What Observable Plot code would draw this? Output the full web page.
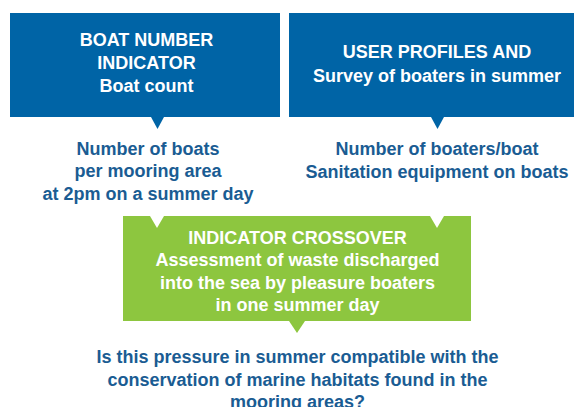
<!DOCTYPE html>
<html>
<head>
<meta charset="utf-8">
<script src="https://cdn.jsdelivr.net/npm/d3@7"></script>
<script src="https://cdn.jsdelivr.net/npm/@observablehq/plot@0.6"></script>
<style>
  html, body { margin: 0; padding: 0; background: #ffffff; }
  #chart svg { display: block; }
</style>
</head>
<body>
<div id="chart"></div>
<script>
// Diagram content
const boxNames   = ["Boat number indicator", "User profiles", "Indicator crossover"];
const boxX1      = [10, 289, 123];
const boxX2      = [280, 575, 471];
const boxY1      = [13, 13, 216];
const boxY2      = [117, 117, 321];
const boxKind    = ["blue", "blue", "green"];

// pointers (downward triangles): centre x, top y, tip y, kind
const ptrX    = [157.5, 437.5, 297, 157, 437];
const ptrTop  = [117, 117, 321, 216, 216];
const ptrTip  = [129, 129, 333, 228, 228];
const ptrHalf = [6.5, 6.5, 8, 7, 7];
const ptrKind = ["blue", "blue", "green", "white", "white"];

// text lines
const lineText = [
  "BOAT NUMBER", "INDICATOR", "Boat count",
  "Number of boats", "per mooring area", "at 2pm on a summer day",
  "USER PROFILES AND", "Survey of boaters in summer",
  "Number of boaters/boat", "Sanitation equipment on boats",
  "INDICATOR CROSSOVER", "Assessment of waste discharged", "into the sea by pleasure boaters", "in one summer day",
  "Is this pressure in summer compatible with the", "conservation of marine habitats found in the", "mooring areas?"
];
const lineX = [
  146, 146, 146,
  147.5, 147.5, 147.5,
  436.5, 436.5,
  436.5, 436.5,
  297, 297, 297, 297,
  297, 297, 297
];
const lineY = [
  40, 63, 86,
  149, 171, 194,
  52, 76,
  149, 172,
  238, 260, 283, 305,
  357, 380, 402
];
const lineKind = [
  "onBox", "onBox", "onBox",
  "plain", "plain", "plain",
  "onBox", "onBox",
  "plain", "plain",
  "onBox", "onBox", "onBox", "onBox",
  "plain", "plain", "plain"
];

const colors = {blue: "#0064a6", green: "#8dc63f", white: "#ffffff", onBox: "#ffffff", plain: "#1a5c93"};

const boxes = boxNames.map((name, i) => ({name, x1: boxX1[i], x2: boxX2[i], y1: boxY1[i], y2: boxY2[i], kind: boxKind[i]}));
const ptrs = [];
ptrX.forEach((x, i) => {
  ptrs.push({id: i, x: x - ptrHalf[i], y1: ptrTop[i], y2: ptrTop[i], kind: ptrKind[i]});
  ptrs.push({id: i, x: x, y1: ptrTop[i], y2: ptrTip[i], kind: ptrKind[i]});
  ptrs.push({id: i, x: x + ptrHalf[i], y1: ptrTop[i], y2: ptrTop[i], kind: ptrKind[i]});
});
const lines = lineText.map((text, i) => ({text, x: lineX[i], y: lineY[i], kind: lineKind[i]}));

const plot = Plot.plot({
  width: 574,
  height: 407,
  margin: 0,
  x: {domain: [0, 574], range: [0, 574], axis: null},
  y: {domain: [0, 407], range: [0, 407], axis: null},
  style: {background: "#ffffff", fontFamily: "'Liberation Sans', Arial, sans-serif"},
  marks: [
    Plot.rect(boxes, {x1: "x1", x2: "x2", y1: "y1", y2: "y2", fill: d => colors[d.kind]}),
    Plot.areaY(ptrs, {x: "x", y1: "y1", y2: "y2", z: "id", fill: d => colors[d.kind], curve: "linear"}),
    Plot.text(lines, {
      x: "x", y: "y", text: "text",
      fill: d => colors[d.kind],
      fontSize: 18, fontWeight: "bold",
      textAnchor: "middle", lineAnchor: "middle"
    })
  ]
});
document.getElementById("chart").appendChild(plot);
</script>
</body>
</html>
